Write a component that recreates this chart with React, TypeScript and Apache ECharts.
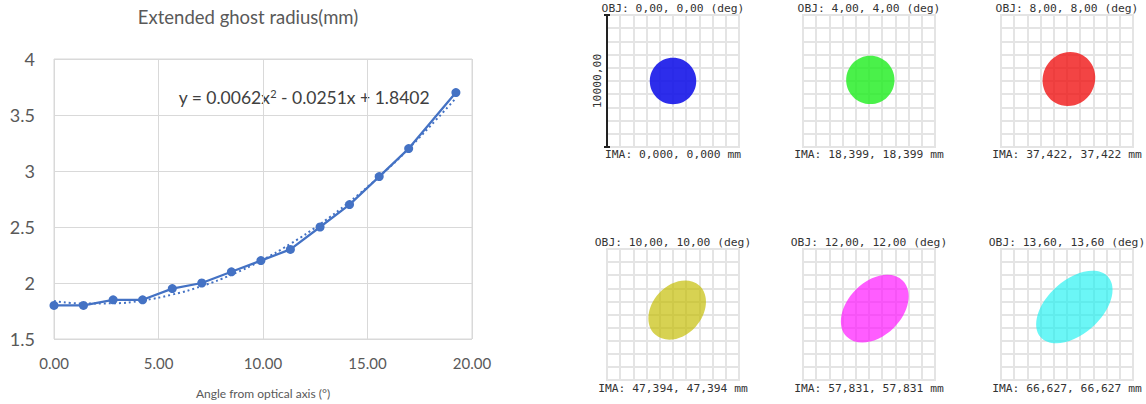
import React, { useEffect, useRef } from "react";
import * as echarts from "echarts";

// ---- Left chart data ----
const chartTitle = "Extended ghost radius(mm)";
const xAxisName = "Angle from optical axis (°)";
const angles = [0, 1.41, 2.83, 4.24, 5.66, 7.07, 8.49, 9.9, 11.31, 12.73, 14.14, 15.56, 16.97, 19.23];
const ghostRadius = [1.8, 1.8, 1.85, 1.85, 1.95, 2.0, 2.1, 2.2, 2.3, 2.5, 2.7, 2.95, 3.2, 3.7];
const trendCoef = [0.0062, -0.0251, 1.8402]; // y = a x^2 + b x + c (shown on chart)

// ---- Spot diagram panels ----
const objLabels = [
  "OBJ: 0,00, 0,00 (deg)",
  "OBJ: 4,00, 4,00 (deg)",
  "OBJ: 8,00, 8,00 (deg)",
  "OBJ: 10,00, 10,00 (deg)",
  "OBJ: 12,00, 12,00 (deg)",
  "OBJ: 13,60, 13,60 (deg)",
];
const imaLabels = [
  "IMA: 0,000, 0,000 mm",
  "IMA: 18,399, 18,399 mm",
  "IMA: 37,422, 37,422 mm",
  "IMA: 47,394, 47,394 mm",
  "IMA: 57,831, 57,831 mm",
  "IMA: 66,627, 66,627 mm",
];
const scaleLabel = "10000,00";
const spotColors = ["#1010e8", "#22ee22", "#f01010", "#c4bc00", "#ff10ff", "#10f0f0"];
const spotOpacity = [0.88, 0.82, 0.78, 0.68, 0.68, 0.62];
// [centerX, centerY, semiMajor, semiMinor, angleDeg] in grid-cell units
const spotShapes = [
  [0, 0, 1.76, 1.76, 0],
  [0.1, 0.08, 1.83, 1.83, 0],
  [0.15, 0.15, 2.08, 1.97, 60],
  [0.32, 0.34, 2.5, 1.9, 48],
  [0.44, 0.44, 3.0, 2.06, 45],
  [0.56, 0.57, 3.43, 2.06, 42],
];

const panelLefts = [607, 803, 1001, 607, 803, 1001];
const panelTops = [15, 15, 15, 249, 249, 249];
const panelSize = 132;

const trendValues = angles.map((x) => trendCoef[0] * x * x + trendCoef[1] * x + trendCoef[2]);

export default function App() {
  const ref = useRef<HTMLDivElement>(null);
  useEffect(() => {
    if (!ref.current) return;
    const chart = echarts.init(ref.current, undefined, { renderer: "svg" });
    const grids: any[] = [
      { left: 54, top: 59, width: 418, height: 286, show: true, borderColor: "#d9d9d9", borderWidth: 1 },
    ];
    const xAxes: any[] = [
      {
        type: "value",
        gridIndex: 0,
        min: 0,
        max: 20,
        interval: 5,
        axisLine: { show: false },
        axisTick: { show: false },
        splitLine: { lineStyle: { color: "#d9d9d9", width: 1 } },
        axisLabel: { formatter: (v: number) => v.toFixed(2), color: "#595959", fontSize: 15, margin: 16, fontFamily: "Lato" },
        name: xAxisName,
        nameLocation: "middle",
        nameGap: 48,
        nameTextStyle: { color: "#595959", fontSize: 12, fontFamily: "Lato" },
      },
    ];
    const yAxes: any[] = [
      {
        type: "value",
        gridIndex: 0,
        min: 1.5,
        max: 4,
        interval: 0.5,
        axisLine: { show: false },
        axisTick: { show: false },
        splitLine: { lineStyle: { color: "#d9d9d9", width: 1 } },
        axisLabel: { color: "#595959", fontSize: 18, margin: 19, fontFamily: "Lato" },
      },
    ];
    const series: any[] = [
      {
        type: "line",
        xAxisIndex: 0,
        yAxisIndex: 0,
        data: angles.map((x, i) => [x, trendValues[i]]),
        smooth: true,
        symbol: "none",
        lineStyle: { color: "#4472C4", width: 2, type: [2, 3] },
        z: 2,
      },
      {
        type: "line",
        xAxisIndex: 0,
        yAxisIndex: 0,
        data: angles.map((x, i) => [x, ghostRadius[i]]),
        symbol: "circle",
        symbolSize: 9,
        itemStyle: { color: "#4472C4" },
        lineStyle: { color: "#4472C4", width: 2.25 },
        z: 3,
      },
    ];
    const graphics: any[] = [
      {
        type: "text",
        x: 248,
        y: 17,
        style: { text: chartTitle, fill: "#595959", fontSize: 18.5, fontFamily: "Lato", align: "center", verticalAlign: "middle" },
      },
      {
        type: "text",
        x: 304,
        y: 97,
        style: {
          text: "{a|y = 0.0062x}{s|2}{a| - 0.0251x + 1.8402}",
          align: "center",
          verticalAlign: "middle",
          rich: {
            a: { fill: "#404040", fontSize: 17.5, fontFamily: "Lato" },
            s: { fill: "#404040", fontSize: 11, fontFamily: "Lato", verticalAlign: "top", padding: [0, 0, 8, 0] },
          },
        },
      },
    ];

    spotShapes.forEach((shape, i) => {
      const gi = i + 1;
      grids.push({
        left: panelLefts[i],
        top: panelTops[i],
        width: panelSize,
        height: i < 3 ? panelSize : panelSize - 1,
        show: true,
        borderColor: "#e4e4e4",
        borderWidth: 2,
      });
      const axCommon = {
        type: "value",
        gridIndex: gi,
        min: -5,
        max: 5,
        interval: 1,
        axisLine: { show: false },
        axisTick: { show: false },
        axisLabel: { show: false },
        splitLine: { lineStyle: { color: "#e4e4e4", width: 2 } },
      };
      xAxes.push({ ...axCommon });
      yAxes.push({ ...axCommon });
      const color = spotColors[i];
      const op = spotOpacity[i];
      series.push({
        type: "custom",
        xAxisIndex: gi,
        yAxisIndex: gi,
        data: [shape],
        renderItem: (params: any, api: any) => {
          const c = api.coord([api.value(0), api.value(1)]);
          const s = api.size([api.value(2), api.value(3)]);
          return {
            type: "ellipse",
            x: c[0],
            y: c[1],
            rotation: (api.value(4) * Math.PI) / 180,
            shape: { cx: 0, cy: 0, rx: s[0], ry: s[1] },
            style: { fill: color, opacity: op },
          };
        },
        z: 3,
      });
      const cx = panelLefts[i] + panelSize / 2;
      const top = panelTops[i];
      graphics.push({
        type: "text",
        x: cx,
        y: top - 7,
        style: { text: objLabels[i], fill: "#333", fontSize: 11.3, fontFamily: "DejaVu Sans Mono", align: "center", verticalAlign: "middle" },
      });
      graphics.push({
        type: "text",
        x: cx,
        y: top + panelSize + 7,
        style: { text: imaLabels[i], fill: "#333", fontSize: 11.3, fontFamily: "DejaVu Sans Mono", align: "center", verticalAlign: "middle" },
      });
    });

    // scale bar on first panel
    const bx = panelLefts[0];
    const by0 = panelTops[0];
    const by1 = panelTops[0] + panelSize;
    graphics.push(
      { type: "line", shape: { x1: bx, y1: by0, x2: bx, y2: by1 }, style: { stroke: "#222", lineWidth: 2 }, z: 10 },
      { type: "line", shape: { x1: bx - 3, y1: by0, x2: bx + 3, y2: by0 }, style: { stroke: "#222", lineWidth: 2 }, z: 10 },
      { type: "line", shape: { x1: bx - 3, y1: by1, x2: bx + 3, y2: by1 }, style: { stroke: "#222", lineWidth: 2 }, z: 10 },
      {
        type: "text",
        x: bx - 10,
        y: (by0 + by1) / 2,
        rotation: Math.PI / 2,
        style: { text: scaleLabel, fill: "#333", fontSize: 11.3, fontFamily: "DejaVu Sans Mono", align: "center", verticalAlign: "middle" },
        z: 10,
      }
    );

    chart.setOption({
      animation: false,
      backgroundColor: "#ffffff",
      grid: grids,
      xAxis: xAxes,
      yAxis: yAxes,
      series,
      graphic: graphics,
    });
    return () => chart.dispose();
  }, []);
  return <div ref={ref} style={{ position: "fixed", left: 0, top: 0, width: 1146, height: 404 }} />;
}
